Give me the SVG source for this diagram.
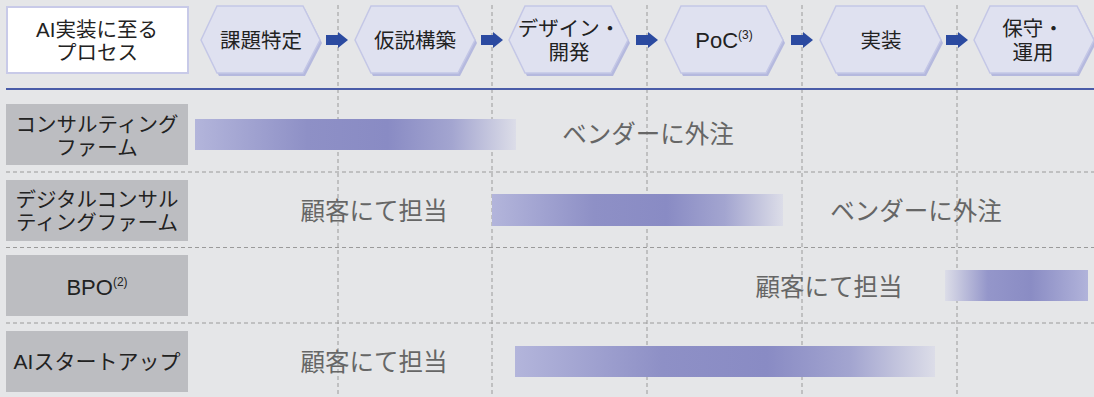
<svg xmlns="http://www.w3.org/2000/svg" xmlns:xlink="http://www.w3.org/1999/xlink" width="1094" height="397" viewBox="0 0 1094 397">
<style>
text{font-family:"Liberation Sans","Noto Sans CJK JP",sans-serif;text-anchor:middle;dominant-baseline:central}
.hd{font-size:20.5px;fill:#222}
.lb{font-size:20.5px;fill:#222}
.lat{font-size:22px}
.bd{font-size:24.5px;fill:#666666}
.sup{font-size:12px}
.hex{fill:#dfe1f0;stroke:#c4c7e6;stroke-width:1.5}
.hexs{fill:#b5b9de}
.lbox{fill:#bcbdc1}
.vd{stroke:#9a9a9a;stroke-width:1;stroke-dasharray:4 3;fill:none}
.arr{fill:#2b4aa0}
</style>
<defs>
<path id="arrow" d="M0,-5 H12 V-8 L22,0 L12,8 V5 H0 Z"/>
<linearGradient id="gR" x1="0" y1="0" x2="1" y2="0">
<stop offset="0" stop-color="#b3b5db"/>
<stop offset="0.35" stop-color="#8e90c6"/>
<stop offset="0.6" stop-color="#898bc4"/>
<stop offset="0.8" stop-color="#a3a5d0"/>
<stop offset="1" stop-color="#dcdde8"/>
</linearGradient>
<linearGradient id="gL" x1="0" y1="0" x2="1" y2="0">
<stop offset="0" stop-color="#dcdde8"/>
<stop offset="0.3" stop-color="#9496ca"/>
<stop offset="0.6" stop-color="#8a8cc4"/>
<stop offset="1" stop-color="#b1b3da"/>
</linearGradient>
</defs>
<rect width="1094" height="397" fill="#e5e6e8"/>

<g id="grid">
<line class="vd" x1="338" y1="5" x2="338" y2="397"/>
<line class="vd" x1="492" y1="5" x2="492" y2="397"/>
<line class="vd" x1="647" y1="5" x2="647" y2="397"/>
<line class="vd" x1="802" y1="5" x2="802" y2="397"/>
<line class="vd" x1="957" y1="5" x2="957" y2="397"/>
<line class="vd" x1="6" y1="172" x2="1094" y2="172"/>
<line class="vd" x1="6" y1="247.5" x2="1094" y2="247.5"/>
<line class="vd" x1="6" y1="323" x2="1094" y2="323"/>
<line x1="6" y1="89" x2="1094" y2="89" stroke="#4a5ca8" stroke-width="2"/>
</g>

<g id="title">
<rect x="7" y="7" width="181" height="66" fill="#ffffff" stroke="#c8cae8" stroke-width="2"/>
<text class="hd"><tspan x="97" y="29">AI実装に至る</tspan><tspan x="97" y="52">プロセス</tspan></text>
</g>

<g id="step1">
<polygon class="hexs" points="203,43 219,9 305,9 322,43 305,76 219,76"/>
<polygon class="hex" points="201,40 217,6 303,6 320,40 303,73 217,73"/>
<text class="hd" x="261" y="40">課題特定</text>
</g>
<g id="step2">
<polygon class="hexs" points="357,43 373,9 460,9 477,43 460,76 373,76"/>
<polygon class="hex" points="355,40 371,6 458,6 475,40 458,73 371,73"/>
<text class="hd" x="415" y="40">仮説構築</text>
</g>
<g id="step3">
<polygon class="hexs" points="511,43 527,9 613,9 630,43 613,76 527,76"/>
<polygon class="hex" points="509,40 525,6 611,6 628,40 611,73 525,73"/>
<text class="hd"><tspan x="569" y="28">デザイン・</tspan><tspan x="569" y="52">開発</tspan></text>
</g>
<g id="step4">
<polygon class="hexs" points="667,43 683,9 768,9 785,43 768,76 683,76"/>
<polygon class="hex" points="665,40 681,6 766,6 783,40 766,73 681,73"/>
<text class="hd lat" x="724" y="40">PoC<tspan class="sup" dy="-5">(3)</tspan></text>
</g>
<g id="step5">
<polygon class="hexs" points="822,43 838,9 926,9 943,43 926,76 838,76"/>
<polygon class="hex" points="820,40 836,6 924,6 941,40 924,73 836,73"/>
<text class="hd" x="881" y="40">実装</text>
</g>
<g id="step6">
<polygon class="hexs" points="976,43 992,9 1079,9 1096,43 1079,76 992,76"/>
<polygon class="hex" points="974,40 990,6 1077,6 1094,40 1077,73 990,73"/>
<text class="hd"><tspan x="1033" y="28">保守・</tspan><tspan x="1033" y="52">運用</tspan></text>
</g>

<g id="connectors">
<use class="arr" href="#arrow" x="326" y="40"/>
<use class="arr" href="#arrow" x="481" y="40"/>
<use class="arr" href="#arrow" x="636" y="40"/>
<use class="arr" href="#arrow" x="791" y="40"/>
<use class="arr" href="#arrow" x="946" y="40"/>
</g>

<g id="row1">
<rect class="lbox" x="6" y="104" width="182" height="61"/>
<text class="lb"><tspan x="97" y="123.5">コンサルティング</tspan><tspan x="97" y="146.5">ファーム</tspan></text>
<rect x="195" y="119" width="321" height="31" fill="url(#gR)"/>
<text class="bd" x="648" y="134.5">ベンダーに外注</text>
</g>

<g id="row2">
<rect class="lbox" x="6" y="180" width="182" height="61"/>
<text class="lb"><tspan x="97" y="198.5">デジタルコンサル</tspan><tspan x="97" y="221.5">ティングファーム</tspan></text>
<text class="bd" x="374" y="211">顧客にて担当</text>
<rect x="492" y="194" width="291" height="32" fill="url(#gR)"/>
<text class="bd" x="916" y="211">ベンダーに外注</text>
</g>

<g id="row3">
<rect class="lbox" x="6" y="255" width="182" height="61"/>
<text class="lb lat" x="97" y="287">BPO<tspan class="sup" dy="-5">(2)</tspan></text>
<text class="bd" x="829" y="287">顧客にて担当</text>
<rect x="945" y="270" width="143" height="31" fill="url(#gL)"/>
</g>

<g id="row4">
<rect class="lbox" x="6" y="331" width="182" height="61"/>
<text class="lb" x="97" y="361.5" style="font-size:21px">AIスタートアップ</text>
<text class="bd" x="374" y="362">顧客にて担当</text>
<rect x="515" y="346" width="420" height="31" fill="url(#gR)"/>
</g>
</svg>
